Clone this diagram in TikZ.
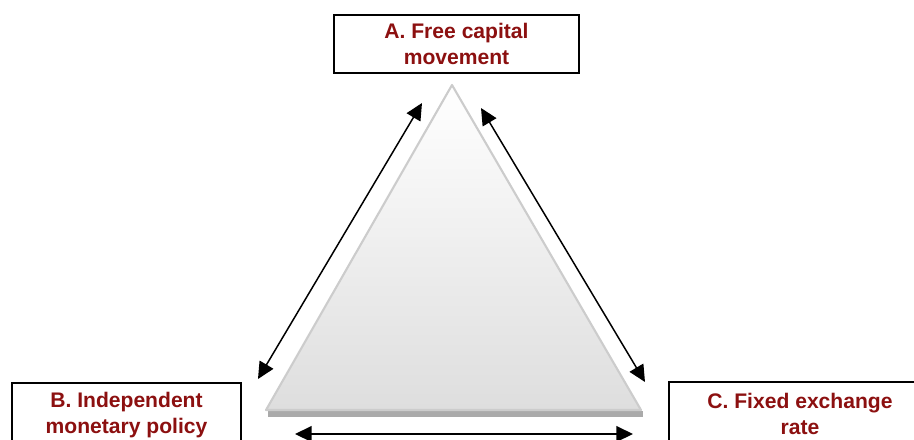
\documentclass[tikz,border=0pt]{standalone}
\usepackage{fontspec}
\setmainfont{Liberation Sans}
\usetikzlibrary{arrows.meta}
\definecolor{trired}{RGB}{140,16,16}
\definecolor{triedge}{RGB}{204,204,204}
\definecolor{tribase}{RGB}{170,170,170}

\begin{document}
\begin{tikzpicture}[x=0.02cm,y=-0.02cm,
	corner/.style={draw=black,line width=1.1pt,fill=white,align=center,inner sep=0pt,
		font=\fontsize{12}{14.7}\selectfont\bfseries,text=trired},
	twoway/.style={{Triangle[length=9.5pt,width=9pt]}-{Triangle[length=9.5pt,width=9pt]},line width=0.85pt}]
	\useasboundingbox (0,0) rectangle (914,440);
	\begin{scope}
		\clip (0,0) rectangle (914,440);
		% the triangle with its darker base
		\fill[tribase] (268,411) -- (643,411) -- (643,417) -- (268,417) -- cycle;
		\shade[top color=white,bottom color=black!13,draw=triedge,line width=1.2pt,line join=round]
			(452,85) -- (641,410) -- (266,410) -- cycle;
		% corners
		\node[corner,minimum width=4.9cm,minimum height=1.16cm] (capital) at (456.5,44) {A. Free capital\\movement};
		\node[corner,minimum width=4.58cm,minimum height=1.28cm] (policy) at (126.5,415) {B. Independent\\monetary policy};
		\node[corner,minimum width=5.24cm,minimum height=1.28cm] (exchange) at (800,414) {C. Fixed exchange\\rate};
	\end{scope}
	% ends of the arrows
	\coordinate (ab1) at (422,103);
	\coordinate (ab2) at (258,379);
	\coordinate (ac1) at (481,108);
	\coordinate (ac2) at (645,382);
	\coordinate (bc1) at (295,434);
	\coordinate (bc2) at (633,434);
	\draw[twoway] (ab1) -- (ab2);
	\draw[twoway] (ac1) -- (ac2);
	\draw[twoway] (bc1) -- (bc2);
\end{tikzpicture}
\end{document}
